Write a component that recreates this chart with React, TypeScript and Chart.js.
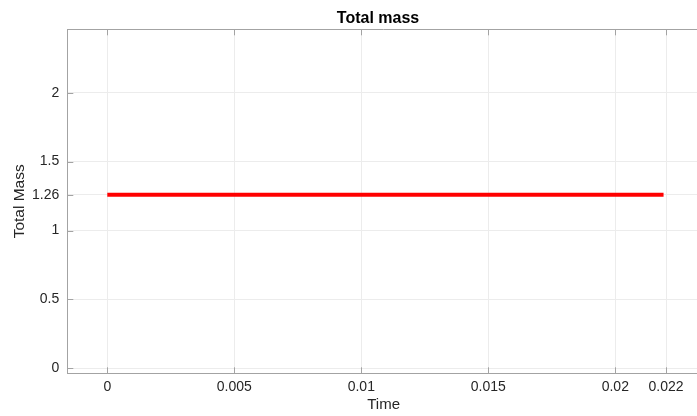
import React, { useEffect, useRef } from "react";
import { Chart, registerables } from "chart.js";

Chart.register(...registerables);

// Data
const timeValues = [0, 0.0219];
const totalMassValues = [1.26, 1.26];
const xTickValues = [0, 0.005, 0.01, 0.015, 0.02, 0.022];
const xTickLabels = ["0", "0.005", "0.01", "0.015", "0.02", "0.022"];
const yTickValues = [0, 0.5, 1, 1.26, 1.5, 2];
const yTickLabels = ["0", "0.5", "1", "1.26", "1.5", "2"];
const xRange = [-0.001575, 0.023335];
const yRange = [-0.036, 2.46];
const chartTitle = "Total mass";

const FONT = "'Liberation Sans', Arial, Helvetica, sans-serif";
const AXIS_COLOR = "#a3a3a3";
const GRID_COLOR = "#ececec";
const TEXT_COLOR = "#262626";

const boxPlugin = {
  id: "matlabBox",
  afterDraw(chart: any) {
    const { ctx, chartArea } = chart;
    const { left, right, top, bottom } = chartArea;
    const xs = chart.scales.x;
    const ys = chart.scales.y;
    const len = 6;
    ctx.save();
    ctx.strokeStyle = AXIS_COLOR;
    ctx.lineWidth = 1;
    ctx.beginPath();
    ctx.moveTo(left, Math.round(top) + 0.5);
    ctx.lineTo(right, Math.round(top) + 0.5);
    xTickValues.forEach((v) => {
      const px = Math.round(xs.getPixelForValue(v)) + 0.5;
      ctx.moveTo(px, bottom);
      ctx.lineTo(px, bottom - len);
      ctx.moveTo(px, top);
      ctx.lineTo(px, top + len);
    });
    yTickValues.forEach((v) => {
      const py = Math.round(ys.getPixelForValue(v)) + 0.5;
      ctx.moveTo(left, py);
      ctx.lineTo(left + len, py);
    });
    ctx.stroke();
    ctx.fillStyle = "#000000";
    ctx.font = `bold 16px ${FONT}`;
    ctx.textAlign = "center";
    ctx.textBaseline = "alphabetic";
    ctx.fillText(chartTitle, 378, 23);
    ctx.restore();
  },
};

export default function App() {
  const canvasRef = useRef<HTMLCanvasElement | null>(null);

  useEffect(() => {
    document.body.style.margin = "0";
    const canvas = canvasRef.current;
    if (!canvas) return;
    const chart = new Chart(canvas, {
      type: "line",
      data: {
        datasets: [
          {
            label: "Total Mass",
            data: timeValues.map((t, i) => ({ x: t, y: totalMassValues[i] })),
            borderColor: "#ff0000",
            backgroundColor: "#ff0000",
            borderWidth: 4,
            pointRadius: 0,
            borderCapStyle: "butt",
            tension: 0,
          },
        ],
      },
      options: {
        responsive: false,
        animation: false,
        devicePixelRatio: 1,
        layout: { padding: { top: 29.3, right: 0, bottom: 0, left: 0 } },
        plugins: {
          legend: { display: false },
          tooltip: { enabled: false },
          title: { display: false },
        },
        scales: {
          x: {
            type: "linear",
            min: xRange[0],
            max: xRange[1],
            afterBuildTicks: (scale: any) => {
              scale.ticks = xTickValues.map((v) => ({ value: v }));
            },
            afterFit: (scale: any) => {
              scale.height = 42.7;
            },
            ticks: {
              color: TEXT_COLOR,
              font: { family: FONT, size: 14 },
              padding: 5,
              maxRotation: 0,
              autoSkip: false,
              callback: (value: any) => {
                const i = xTickValues.findIndex((v) => Math.abs(v - value) < 1e-9);
                return i >= 0 ? xTickLabels[i] : "";
              },
            },
            grid: { color: GRID_COLOR, drawTicks: false, lineWidth: 1 },
            border: { display: true, color: AXIS_COLOR, width: 1 },
            title: {
              display: true,
              text: "Time",
              color: TEXT_COLOR,
              font: { family: FONT, size: 15 },
              padding: { top: 0, bottom: 2 },
            },
          },
          y: {
            type: "linear",
            min: yRange[0],
            max: yRange[1],
            afterBuildTicks: (scale: any) => {
              scale.ticks = yTickValues.map((v) => ({ value: v }));
            },
            afterFit: (scale: any) => {
              scale.width = 67.3;
            },
            ticks: {
              color: TEXT_COLOR,
              font: { family: FONT, size: 14 },
              padding: 8,
              autoSkip: false,
              callback: (value: any) => {
                const i = yTickValues.findIndex((v) => Math.abs(v - value) < 1e-9);
                return i >= 0 ? yTickLabels[i] : "";
              },
            },
            grid: { color: GRID_COLOR, drawTicks: false, lineWidth: 1 },
            border: { display: true, color: AXIS_COLOR, width: 1 },
            title: {
              display: true,
              text: "Total Mass",
              color: TEXT_COLOR,
              font: { family: FONT, size: 15.5 },
              padding: { top: 10.5, bottom: 0 },
            },
          },
        },
      },
      plugins: [boxPlugin],
    } as any);
    return () => chart.destroy();
  }, []);

  return (
    <div style={{ position: "absolute", left: 0, top: 0, width: 697, height: 416, overflow: "hidden", background: "#ffffff" }}>
      <canvas ref={canvasRef} width={700} height={416} style={{ display: "block" }} />
    </div>
  );
}
